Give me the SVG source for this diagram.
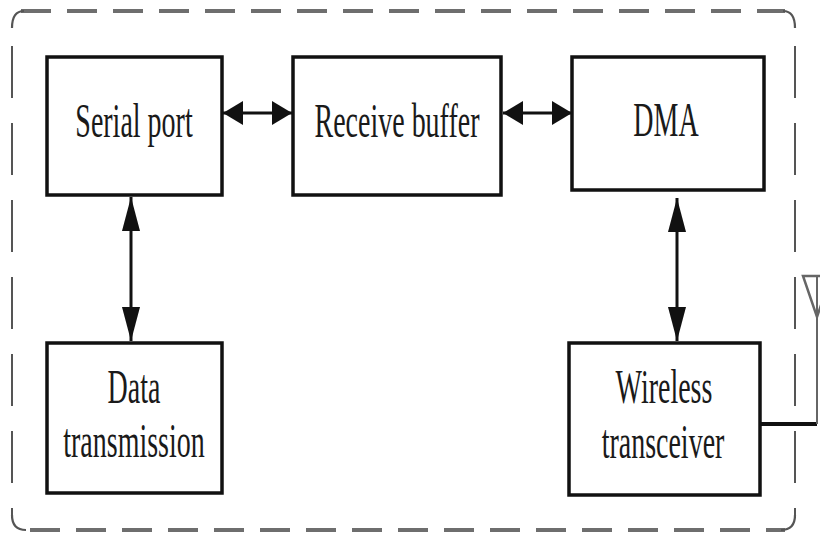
<svg xmlns="http://www.w3.org/2000/svg" width="820" height="533" viewBox="0 0 820 533">
<style>
  .box { fill: #fff; stroke: #111; stroke-width: 3.5; }
  .lbl { font-family: "Liberation Serif", "Times New Roman", serif; font-size: 28px; fill: #1a1a1a; text-anchor: middle; }
  .conn { stroke: #111; stroke-width: 3; fill: none; }
  .dh { stroke: #6e6e6e; stroke-width: 4; fill: none; stroke-dasharray: 30 16; }
  .dv { stroke: #555; stroke-width: 2; fill: none; stroke-dasharray: 52 25; stroke-dashoffset: 56; }
  .corner { stroke: #555; stroke-width: 2.2; fill: none; }
</style>
<defs>
  <marker id="mh" markerUnits="userSpaceOnUse" markerWidth="20" markerHeight="24" viewBox="0 0 20 24" refX="20" refY="12" orient="auto-start-reverse">
    <path d="M0,0 L20,12 L0,24 Z" fill="#111"/>
  </marker>
  <marker id="mv" markerUnits="userSpaceOnUse" markerWidth="34" markerHeight="18" viewBox="0 0 34 18" refX="34" refY="9" orient="auto-start-reverse">
    <path d="M0,0 L34,9 L0,18 Z" fill="#111"/>
  </marker>
</defs>
<rect width="820" height="533" fill="#fff"/>
<g id="frame">
  <path class="dh" d="M21,11 H785"/>
  <path class="dh" d="M30,530 H785"/>
  <path class="dv" d="M12,25 V518"/>
  <path class="dv" d="M795,25 V518"/>
  <path class="corner" d="M12,28 Q12,11 24,11"/>
  <path class="corner" d="M783,11 Q795,11 795,28"/>
  <path class="corner" d="M12,515 Q12,530 26,530"/>
  <path class="corner" d="M781,530 Q795,530 795,515"/>
</g>
<g id="connectors">
  <path class="conn" d="M223,113 H292" marker-start="url(#mh)" marker-end="url(#mh)"/>
  <path class="conn" d="M503,113 H572" marker-start="url(#mh)" marker-end="url(#mh)"/>
  <path class="conn" d="M131,197 V341" marker-start="url(#mv)" marker-end="url(#mv)"/>
  <path class="conn" d="M677,198 V341" marker-start="url(#mv)" marker-end="url(#mv)"/>
  <path d="M760,424 H817" stroke="#111" stroke-width="4" fill="none"/>
  <path d="M817,424 V276" stroke="#666" stroke-width="2" fill="none"/>
</g>
<g id="serial-port">
  <rect class="box" x="47" y="57" width="175" height="138"/>
  <text class="lbl" transform="translate(134,137) scale(1,1.7)">Serial port</text>
</g>
<g id="receive-buffer">
  <rect class="box" x="293" y="57" width="208" height="138"/>
  <text class="lbl" transform="translate(397,137) scale(1,1.7)">Receive buffer</text>
</g>
<g id="dma">
  <rect class="box" x="572" y="57" width="192" height="133"/>
  <text class="lbl" transform="translate(666,136) scale(1,1.7)">DMA</text>
</g>
<g id="data-transmission">
  <rect class="box" x="47" y="343" width="175" height="150"/>
  <text class="lbl" transform="translate(134,403) scale(1,1.7)">Data</text>
  <text class="lbl" transform="translate(134,457) scale(1,1.7)">transmission</text>
</g>
<g id="wireless-transceiver">
  <rect class="box" x="569" y="343" width="191" height="152"/>
  <text class="lbl" transform="translate(664,403) scale(1,1.7)">Wireless</text>
  <text class="lbl" transform="translate(663,458) scale(1,1.7)">transceiver</text>
</g>
<g id="antenna">
  <path d="M803,276 H831 L817,317 Z" fill="none" stroke="#666" stroke-width="2.5"/>
</g>
</svg>
